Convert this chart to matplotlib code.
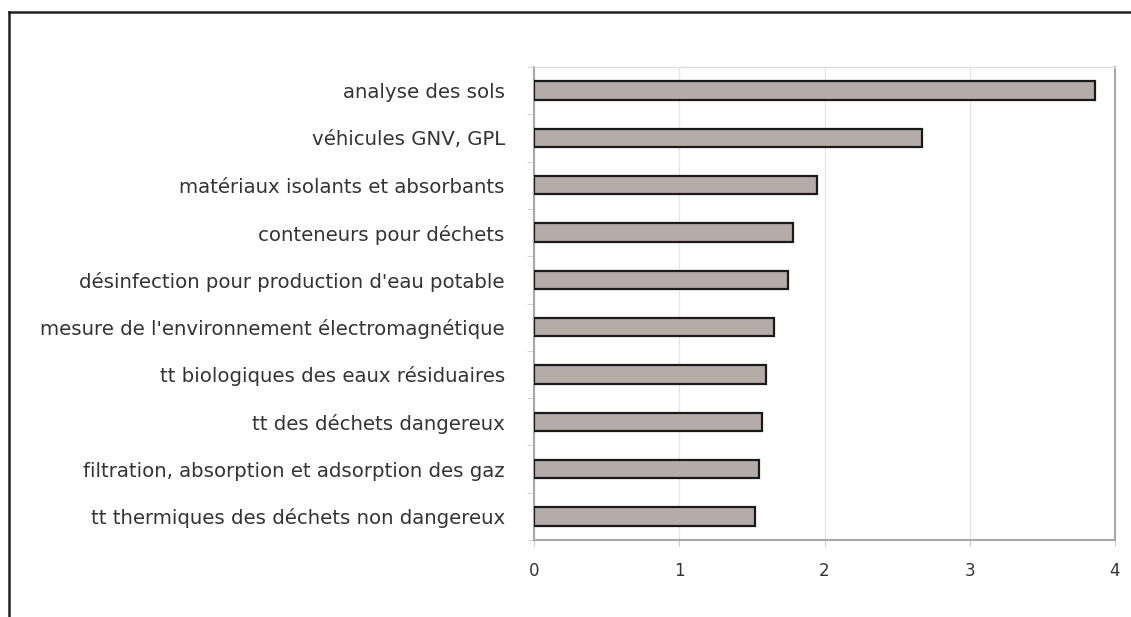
import matplotlib
matplotlib.use('Agg')
import matplotlib.pyplot as plt
from matplotlib.lines import Line2D

# données
categories = [
    'analyse des sols',
    'véhicules GNV, GPL',
    'matériaux isolants et absorbants',
    'conteneurs pour déchets',
    "désinfection pour production d'eau potable",
    "mesure de l'environnement électromagnétique",
    'tt biologiques des eaux résiduaires',
    'tt des déchets dangereux',
    'filtration, absorption et adsorption des gaz',
    'tt thermiques des déchets non dangereux',
]
values = [3.86, 2.67, 1.95, 1.78, 1.75, 1.65, 1.60, 1.57, 1.55, 1.52]
xticks = [0, 1, 2, 3, 4]

plt.rcParams['font.family'] = ['DejaVu Sans']

fig = plt.figure(figsize=(11.31, 6.17), dpi=100)
ax = fig.add_axes([534 / 1131, 1 - 540 / 617, (1115 - 534) / 1131, (540 - 67) / 617])

y = list(range(len(categories)))
ax.barh(y, values, height=0.39, color='#b5aca9', edgecolor='#1a1a1a', linewidth=1.6, zorder=3)

ax.set_xlim(0, 4)
ax.set_ylim(len(categories) - 0.5, -0.5)
ax.set_xticks(xticks)
ax.set_xticklabels([str(t) for t in xticks], fontsize=12, color='#333333')
ax.set_yticks(y)
ax.set_yticklabels(categories, fontsize=14.2, color='#333333')
ax.tick_params(axis='y', length=0, pad=21)
ax.tick_params(axis='x', length=4, color='#cccccc', pad=12)

# petites graduations entre les catégories
ax.set_yticks([i + 0.5 for i in range(-1, len(categories))], minor=True)
ax.tick_params(axis='y', which='minor', length=5, color='#cccccc')

ax.grid(axis='x', color='#e6e6e6', linewidth=1, zorder=0)
for side in ['left', 'right', 'top', 'bottom']:
    ax.spines[side].set_color('#a8a8a8')
    ax.spines[side].set_linewidth(1.5)
ax.spines['top'].set_color('#e0e0e0')
ax.spines['top'].set_linewidth(1)

# cadre partiel autour de la figure
fig.add_artist(Line2D([9 / 1131, 1], [1 - 12 / 617, 1 - 12 / 617], color='#222222', linewidth=1.8))
fig.add_artist(Line2D([9 / 1131, 9 / 1131], [0, 1 - 12 / 617], color='#222222', linewidth=1.8))

fig.savefig('out.png', dpi=100)
